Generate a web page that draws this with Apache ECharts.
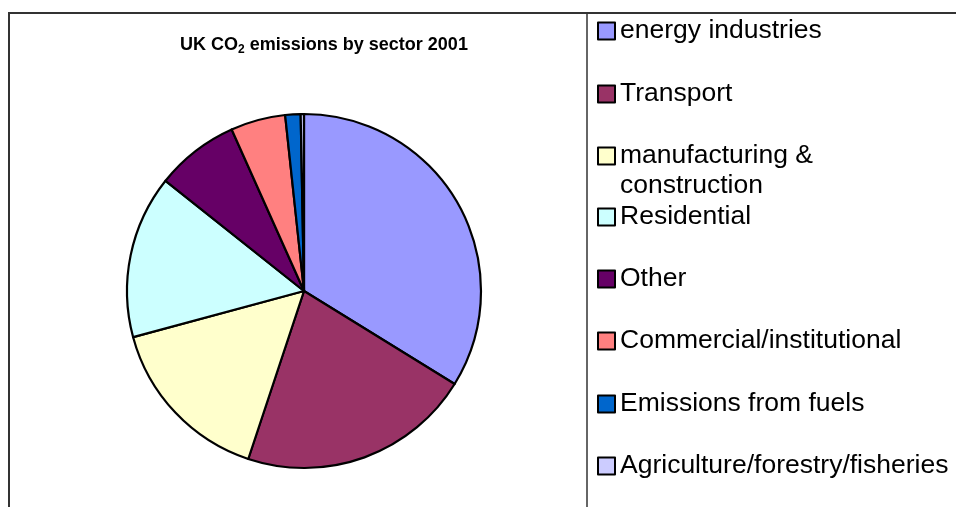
<!DOCTYPE html>
<html>
<head>
<meta charset="utf-8">
<script src="https://cdn.jsdelivr.net/npm/echarts@6/dist/echarts.min.js"></script>
<style>
  html, body { margin: 0; padding: 0; background: #fff; }
  #chart { width: 956px; height: 507px; }
</style>
</head>
<body>
<div id="chart"></div>
<script>
// UK CO2 emissions by sector, 2001 (share of total, %)
const sectors = [
  'energy industries',
  'Transport',
  'manufacturing & construction',
  'Residential',
  'Other',
  'Commercial/institutional',
  'Emissions from fuels',
  'Agriculture/forestry/fisheries'
];
const shares = [33.8, 21.3, 15.7, 14.9, 7.6, 5.0, 1.4, 0.3];
const sectorColors = ['#9999FF', '#993366', '#FFFFCC', '#CCFFFF', '#660066', '#FF8080', '#0066CC', '#CCCCFF'];

// vertical centre of each legend row
const legendRowY = [31, 94, 156, 217, 279, 341, 404, 466];

const FONT = '"Liberation Sans", Arial, sans-serif';
const LEGEND_FONT = 26.5;
const LEGEND_LINE = 30;
const LEGEND_LEFT = 597;
const ICON = 17;
const TEXT_GAP = 6;

// the long manufacturing label wraps onto a second line below its key
const WRAPPED = 'manufacturing & construction';
const wrappedLines = ['manufacturing &', 'construction'];

const chart = echarts.init(document.getElementById('chart'), null, { renderer: 'canvas' });

const legends = sectors.map((name, i) => ({
  data: [name],
  left: LEGEND_LEFT,
  top: legendRowY[i] - LEGEND_LINE / 2,
  padding: 0,
  icon: 'rect',
  itemWidth: ICON,
  itemHeight: ICON,
  itemGap: 0,
  itemTextGap: TEXT_GAP,
  selectedMode: false,
  itemStyle: { borderColor: '#000', borderWidth: 2 },
  formatter: n => (n === WRAPPED ? wrappedLines[0] : n),
  textStyle: {
    fontFamily: FONT,
    fontSize: LEGEND_FONT,
    lineHeight: LEGEND_LINE,
    color: '#000'
  }
}));

const wrapIndex = sectors.indexOf(WRAPPED);

chart.setOption({
  animation: false,
  backgroundColor: '#fff',
  color: sectorColors,
  title: {
    text: '{a|UK CO}{s|2}{a| emissions by sector 2001}',
    left: 324,
    textAlign: 'center',
    top: 34,
    padding: 0,
    textStyle: {
      rich: {
        a: { fontFamily: FONT, fontWeight: 'bold', fontSize: 18, color: '#000' },
        s: { fontFamily: FONT, fontWeight: 'bold', fontSize: 12, color: '#000', padding: [10, 0, 0, 0] }
      }
    }
  },
  legend: legends,
  graphic: [
    // chart frame: top edge, left edge and the divider in front of the legend
    { type: 'line', shape: { x1: 8.5, y1: 13, x2: 956, y2: 13 }, style: { stroke: '#333', lineWidth: 2 }, silent: true },
    { type: 'line', shape: { x1: 9, y1: 12, x2: 9, y2: 507 }, style: { stroke: '#333', lineWidth: 2 }, silent: true },
    { type: 'line', shape: { x1: 587, y1: 12, x2: 587, y2: 507 }, style: { stroke: '#333', lineWidth: 1.5 }, silent: true },
    // continuation line of the wrapped legend label
    {
      type: 'text', silent: true,
      x: LEGEND_LEFT + ICON + TEXT_GAP,
      y: legendRowY[wrapIndex] + LEGEND_LINE,
      style: {
        text: wrappedLines[1],
        fontFamily: FONT,
        fontSize: LEGEND_FONT,
        fill: '#000',
        verticalAlign: 'middle',
        align: 'left'
      }
    }
  ],
  series: [{
    type: 'pie',
    center: [304, 291],
    radius: [0, 177],
    startAngle: 90,
    clockwise: true,
    label: { show: false },
    labelLine: { show: false },
    emphasis: { disabled: true },
    silent: true,
    itemStyle: { borderColor: '#000', borderWidth: 2.2 },
    data: sectors.map((name, i) => ({ name, value: shares[i] }))
  }]
});
</script>
</body>
</html>
